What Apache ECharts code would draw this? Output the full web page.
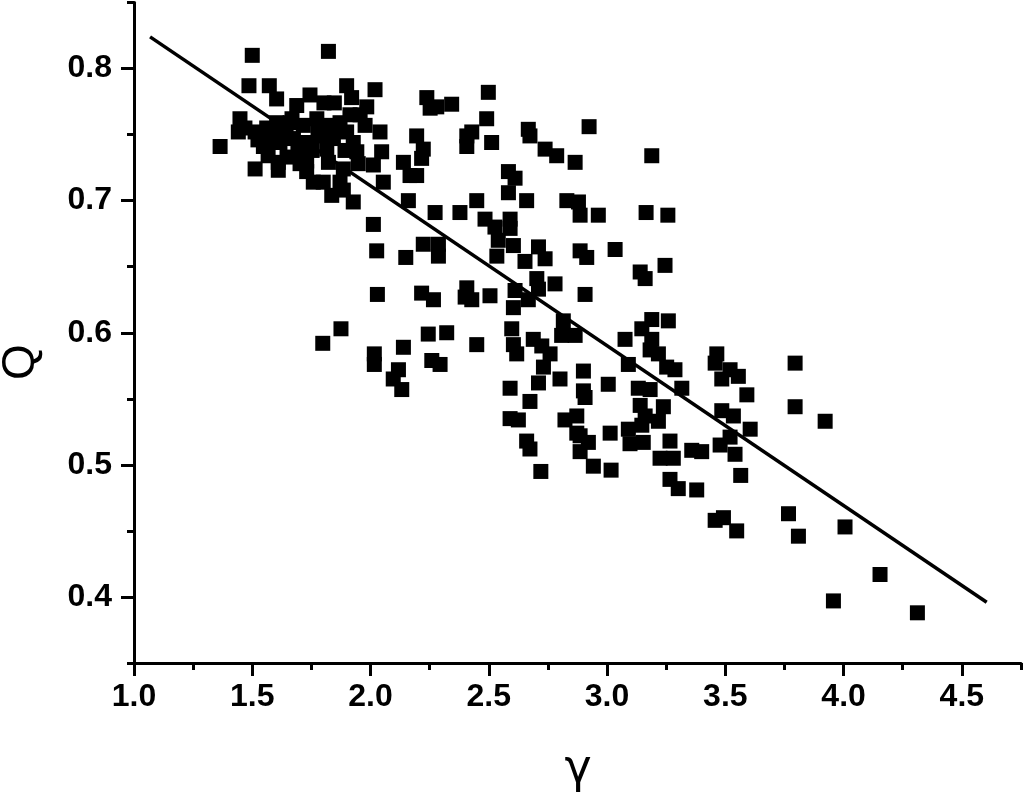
<!DOCTYPE html>
<html>
<head>
<meta charset="utf-8">
<script src="https://cdn.jsdelivr.net/npm/echarts@6/dist/echarts.min.js"></script>
<style>
body{margin:0;background:#fff}
#Chart{width:1024px;height:800px}
</style>
</head>
<body>
<div id="Chart"></div>
<script>
//散点数据 (gamma, Q)
var gammaList=[
    1.50,1.822,1.486,1.572,1.603,1.744,1.688,1.803,1.847,1.899,1.920,2.019,1.984,1.956,1.448,1.441,1.512,1.364,1.561,1.603,
    1.660,1.716,1.773,1.829,1.871,1.899,1.561,1.617,1.674,1.730,1.786,1.843,1.927,2.040,1.547,1.815,1.942,2.047,1.610,1.610,
    1.512,1.730,1.730,1.822,1.885,1.948,2.012,1.758,1.800,1.871,1.885,1.836,1.927,2.054,2.012,
    1.469,1.524,1.584,1.643,1.693,1.753,1.647,1.702,1.778,1.854,1.913,1.977,1.892,1.567,1.668,
    2.238,2.252,2.280,2.343,2.498,2.491,2.195,2.223,2.216,2.407,2.428,2.407,2.512,2.667,2.674,2.738,2.787,2.139,2.167,2.195,
    2.160,2.273,2.378,2.449,2.583,2.611,2.583,2.660,2.830,2.484,2.526,2.590,2.590,
    2.924,3.189,2.865,2.879,2.886,2.963,3.165,3.257,
    2.026,2.029,1.875,1.798,2.016,2.016,
    2.149,2.223,2.287,2.287,2.540,2.604,2.534,2.653,2.710,2.738,2.216,2.266,2.407,2.428,2.400,2.505,2.611,2.703,2.710,2.780,
    2.667,2.604,2.815,2.808,2.139,2.244,2.322,2.449,2.597,2.604,2.618,2.688,2.724,2.759,2.259,2.294,2.118,2.096,2.132,2.731,
    2.710,2.801,2.590,2.674,2.590,2.625,2.822,
    2.886,2.914,3.034,3.140,3.161,3.245,2.907,3.189,3.259,3.147,3.076,3.189,3.182,3.217,2.865,3.090,3.252,3.287,2.900,3.005,
    3.132,3.182,3.316,2.900,2.907,3.464,3.457,3.520,3.555,3.485,3.591,3.140,3.238,3.161,3.217,2.872,3.485,3.534,3.605,3.013,
    3.090,2.872,
    2.886,2.921,2.886,2.660,2.674,3.097,2.720,2.942,3.017,
    3.147,3.153,3.266,3.224,3.280,3.358,3.400,3.520,3.478,3.541,3.565,3.266,3.301,3.379,3.457,3.492,3.548,3.795,
    3.767,3.809,4.006,4.154,3.957,4.312,
    3.795,3.922
]
var qList=[
    0.810,0.813,0.787,0.787,0.777,0.780,0.772,0.774,0.774,0.787,0.778,0.784,0.771,0.765,0.762,0.752,0.752,0.741,0.755,0.759,
    0.759,0.757,0.762,0.757,0.759,0.752,0.744,0.744,0.747,0.744,0.749,0.747,0.744,0.752,0.741,0.739,0.737,0.737,0.729,0.723,
    0.724,0.730,0.722,0.729,0.724,0.728,0.727,0.714,0.714,0.714,0.708,0.704,0.699,0.714,0.682,
    0.755,0.746,0.751,0.755,0.738,0.738,0.733,0.728,0.753,0.753,0.765,0.757,0.738,0.734,0.762,
    0.778,0.770,0.771,0.773,0.782,0.762,0.749,0.739,0.732,0.749,0.752,0.741,0.744,0.754,0.749,0.739,0.734,0.729,0.719,0.719,
    0.700,0.691,0.691,0.700,0.722,0.717,0.706,0.700,0.700,0.686,0.680,0.686,0.679,
    0.756,0.734,0.729,0.699,0.689,0.689,0.691,0.689,
    0.662,0.629,0.603,0.592,0.584,0.576,
    0.657,0.667,0.667,0.658,0.670,0.666,0.658,0.654,0.665,0.656,0.630,0.625,0.634,0.625,0.627,0.628,0.632,0.641,0.633,0.637,
    0.625,0.619,0.609,0.598,0.589,0.599,0.600,0.591,0.603,0.591,0.584,0.595,0.590,0.584,0.579,0.576,0.572,0.565,0.557,0.574,
    0.562,0.565,0.558,0.548,0.535,0.534,0.534,
    0.662,0.657,0.663,0.646,0.641,0.651,0.629,0.610,0.609,0.603,0.595,0.595,0.587,0.584,0.598,0.576,0.574,0.572,0.571,0.561,
    0.558,0.557,0.558,0.556,0.551,0.584,0.577,0.572,0.567,0.565,0.553,0.545,0.544,0.537,0.533,0.537,0.541,0.537,0.527,0.524,
    0.527,0.524,
    0.522,0.517,0.510,0.518,0.512,0.516,0.495,0.499,0.496,
    0.530,0.517,0.518,0.505,0.505,0.511,0.510,0.521,0.515,0.508,0.492,0.489,0.482,0.481,0.458,0.460,0.450,0.544,
    0.463,0.446,0.453,0.417,0.397,0.388,
    0.577,0.533
]

//拟合直线端点
var fitX=[1.068,4.605]
var fitY=[0.824,0.396]

//刻度
var xTicks=[1.0,1.5,2.0,2.5,3.0,3.5,4.0,4.5]
var xMinor=[1.25,1.75,2.25,2.75,3.25,3.75,4.25,4.75]
var yTicks=[0.4,0.5,0.6,0.7,0.8]
var yMinor=[0.35,0.45,0.55,0.65,0.75,0.85]

var fontName="'Liberation Sans', Arial, sans-serif"

//简单的对象合并
var $={extend:function(a,b){for(var k in b){a[k]=b[k]}return a}}

function drawChar(){
    var myChart=echarts.init(document.getElementById('Chart'))
    var points=[]
    for(var i=0;i<gammaList.length;i++){
        points.push([gammaList[i],qList[i]])
    }
    var fitLine=[[fitX[0],fitY[0]],[fitX[1],fitY[1]]]
    var tickLabel={
        fontSize:32,
        fontWeight:'bold',
        fontFamily:fontName,
        color:'#000'
    }
    var option={
        animation:false,
        backgroundColor:'#fff',
        grid:{left:134,right:3,top:2.5,bottom:137},
        xAxis:[
            {
                type:'value',min:1,max:4.75,position:'bottom',
                axisLine:{lineStyle:{color:'#000',width:3}},
                axisTick:{customValues:xTicks,length:13,lineStyle:{color:'#000',width:3}},
                axisLabel:$.extend({customValues:xTicks,margin:18,formatter:function(v){return v.toFixed(1)}},tickLabel),
                splitLine:{show:false}
            },
            {
                type:'value',min:1,max:4.75,position:'bottom',
                axisLine:{show:false},
                axisTick:{customValues:xMinor,length:7,lineStyle:{color:'#000',width:3}},
                axisLabel:{show:false},
                splitLine:{show:false}
            }
        ],
        yAxis:[
            {
                type:'value',min:0.35,max:0.85,position:'left',
                axisLine:{show:true,lineStyle:{color:'#000',width:3}},
                axisTick:{show:true,customValues:yTicks,length:13,lineStyle:{color:'#000',width:3}},
                axisLabel:$.extend({customValues:yTicks,margin:22,formatter:function(v){return v.toFixed(1)}},tickLabel),
                splitLine:{show:false}
            },
            {
                type:'value',min:0.35,max:0.85,position:'left',
                axisLine:{show:false},
                axisTick:{show:true,customValues:yMinor,length:7,lineStyle:{color:'#000',width:3}},
                axisLabel:{show:false},
                splitLine:{show:false}
            }
        ],
        graphic:[
            {
                type:'text',x:21,y:362,rotation:Math.PI/2,
                style:{text:'Q',fontSize:46,fontFamily:fontName,fill:'#000',
                    align:'center',verticalAlign:'middle',textAlign:'center',textVerticalAlign:'middle'}
            },
            {
                type:'text',x:578,y:770,
                style:{text:'γ',fontSize:46,fontFamily:"'DejaVu Sans', sans-serif",fill:'#000',
                    align:'center',verticalAlign:'middle',textAlign:'center',textVerticalAlign:'middle'}
            }
        ],
        series:[
            {
                type:'scatter',
                symbol:'rect',
                symbolSize:15,
                itemStyle:{color:'#000',opacity:1},
                data:points
            },
            {
                type:'line',
                data:fitLine,
                showSymbol:false,
                lineStyle:{color:'#000',width:3.5}
            }
        ]
    }
    myChart.setOption(option)
}

drawChar()
</script>
</body>
</html>
